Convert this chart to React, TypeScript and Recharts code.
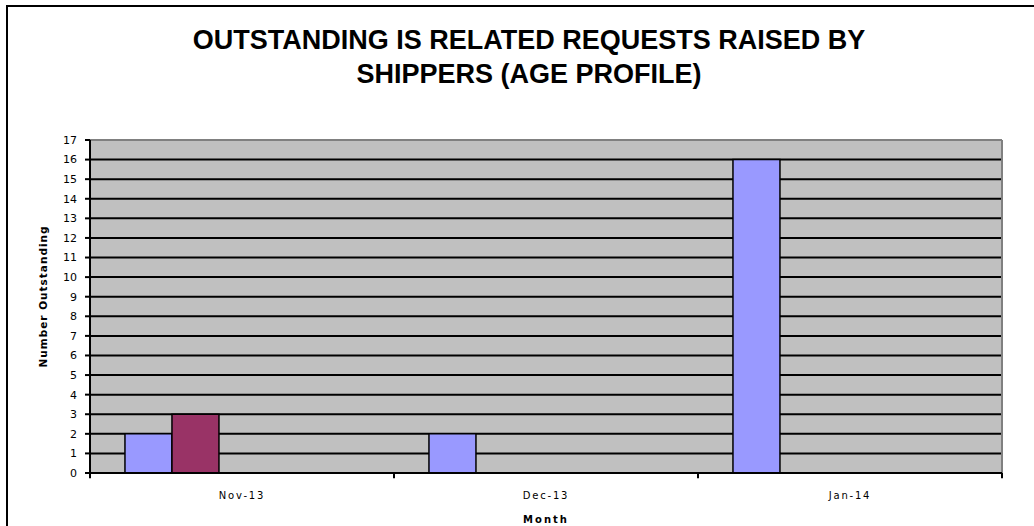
import React from "react";
import {
  BarChart,
  Bar,
  XAxis,
  YAxis,
  CartesianGrid,
  ReferenceLine,
} from "recharts";

const months = ["Nov-13", "Dec-13", "Jan-14"];
const series1 = [2, 2, 16];
const series2 = [3, null, null];
const series3 = [null, null, null];
const series4 = [null, null, null];
const series5 = [null, null, null];
const yTicks = [0, 1, 2, 3, 4, 5, 6, 7, 8, 9, 10, 11, 12, 13, 14, 15, 16, 17];

const chartData = months.map((m, i) => ({
  month: m,
  s1: series1[i],
  s2: series2[i],
  s3: series3[i],
  s4: series4[i],
  s5: series5[i],
}));

const MonthTick = ({ x, y, payload }: any) => (
  <text
    x={x}
    y={y}
    dy={18}
    textAnchor="middle"
    fontFamily="DejaVu Sans"
    fontSize={10}
    letterSpacing={1.8}
    fill="#000"
  >
    {payload.value}
  </text>
);

const YLabel = ({ viewBox }: any) => {
  const cx = viewBox.x + 3;
  const cy = viewBox.y + viewBox.height / 2 - 10;
  return (
    <text
      x={cx}
      y={cy}
      transform={`rotate(-90 ${cx} ${cy})`}
      textAnchor="middle"
      dominantBaseline="central"
      fontFamily="DejaVu Sans"
      fontWeight="bold"
      fontSize={10.5}
      letterSpacing={1}
      fill="#000"
    >
      Number Outstanding
    </text>
  );
};

const XLabel = ({ viewBox }: any) => (
  <text
    x={viewBox.x + viewBox.width / 2}
    y={viewBox.y + 50}
    textAnchor="middle"
    fontFamily="DejaVu Sans"
    fontWeight="bold"
    fontSize={10}
    letterSpacing={2}
    fill="#000"
  >
    Month
  </text>
);

export default function App() {
  return (
    <div
      style={{
        position: "absolute",
        left: 0,
        top: 0,
        width: 1034,
        height: 526,
        overflow: "hidden",
        background: "#fff",
      }}
    >
      <div
        style={{
          position: "absolute",
          left: 6,
          top: 5,
          width: 1100,
          height: 600,
          border: "2px solid #000",
        }}
      />
      <div
        style={{
          position: "absolute",
          left: 0,
          width: 1058,
          top: 23,
          textAlign: "center",
          fontFamily: "Liberation Sans",
          fontWeight: "bold",
          fontSize: 27,
          lineHeight: "34px",
          color: "#000",
        }}
      >
        OUTSTANDING IS RELATED REQUESTS RAISED BY
        <br />
        SHIPPERS (AGE PROFILE)
      </div>
      <div style={{ position: "absolute", left: 0, top: 0 }}>
        <BarChart
          width={1034}
          height={526}
          data={chartData}
          margin={{ top: 140, right: 32, bottom: 23, left: 40 }}
          barCategoryGap="11.5%"
          barGap={0}
        >
          <CartesianGrid
            vertical={false}
            stroke="#000"
            strokeWidth={2}
            fill="#C0C0C0"
            fillOpacity={1}
          />
          <XAxis
            dataKey="month"
            height={30}
            tickLine={false}
            axisLine={{ stroke: "#000", strokeWidth: 2 }}
            tick={<MonthTick />}
            label={<XLabel />}
          />
          <YAxis
            width={50}
            domain={[0, 17]}
            ticks={yTicks}
            interval={0}
            allowDecimals={false}
            axisLine={{ stroke: "#000", strokeWidth: 2 }}
            tickLine={{ stroke: "#000", strokeWidth: 2 }}
            tickSize={5}
            tickMargin={8}
            tick={{ fontFamily: "DejaVu Sans", fontSize: 11, fill: "#000" }}
            label={<YLabel />}
          />
          <ReferenceLine y={17} stroke="#808080" strokeWidth={2} />
          <ReferenceLine x="Jan-14" position="end" stroke="#808080" strokeWidth={2} />
          {months.map((m) => (
            <ReferenceLine
              key={m}
              position="start"
              ifOverflow="visible"
              segment={[
                { x: m, y: 0 },
                { x: m, y: -0.27 },
              ]}
              stroke="#000"
              strokeWidth={2}
            />
          ))}
          <ReferenceLine
            position="end"
            ifOverflow="visible"
            segment={[
              { x: months[months.length - 1], y: 0 },
              { x: months[months.length - 1], y: -0.27 },
            ]}
            stroke="#000"
            strokeWidth={2}
          />
          <Bar dataKey="s1" name="Series 1" fill="#9999FF" stroke="#000" strokeWidth={1.5} isAnimationActive={false} />
          <Bar dataKey="s2" name="Series 2" fill="#993366" stroke="#000" strokeWidth={1.5} isAnimationActive={false} />
          <Bar dataKey="s3" name="Series 3" fill="#FFFFCC" stroke="#000" strokeWidth={1.5} isAnimationActive={false} />
          <Bar dataKey="s4" name="Series 4" fill="#CCFFFF" stroke="#000" strokeWidth={1.5} isAnimationActive={false} />
          <Bar dataKey="s5" name="Series 5" fill="#660066" stroke="#000" strokeWidth={1.5} isAnimationActive={false} />
        </BarChart>
      </div>
    </div>
  );
}
